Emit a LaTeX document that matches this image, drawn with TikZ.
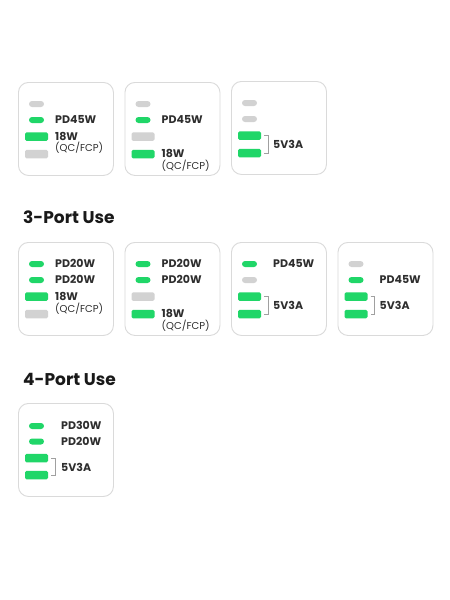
\documentclass[tikz,border=0pt]{standalone}
\usepackage{fontspec}
\setmainfont{Poppins}
\definecolor{pgreen}{HTML}{20D668}
\definecolor{pgray}{HTML}{D2D2D2}
\definecolor{pborder}{HTML}{DADADA}
\definecolor{ptext}{HTML}{2E2E2E}
\definecolor{pbrk}{HTML}{A0A0A0}
\tikzset{
 card/.style={draw=pborder, line width=0.9pt, rounded corners=10pt, minimum width=95pt, minimum height=93pt, anchor=north west, inner sep=0pt},
 spill/.style={rectangle, rounded corners=3pt, minimum width=15pt, minimum height=6pt, inner sep=0pt},
 bigport/.style={rectangle, rounded corners=1.5pt, minimum width=23pt, minimum height=8.5pt, inner sep=0pt},
 gon/.style={fill=pgreen}, goff/.style={fill=pgray},
 lbl/.style={anchor=west, inner sep=0pt, text height=7.8pt, text depth=0pt, font=\bfseries\fontsize{11}{12}\selectfont, text=ptext},
 sublbl/.style={anchor=west, inner sep=0pt, text height=7.5pt, text depth=0pt, font=\fontsize{10}{12}\selectfont, text=ptext},
 brk/.style={draw=pbrk, line width=0.6pt},
 head/.style={anchor=base west, inner sep=0pt, font=\bfseries\fontsize{17}{20}\selectfont, text=black!90}
}
\begin{document}
\begin{tikzpicture}[x=1pt,y=-1pt]
\useasboundingbox[fill=white] (0,0) rectangle (450,600);
% Row 1
\begin{scope}[shift={(18,82)}]
\node[card] (a1) at (0,0) {};
\node[spill,goff] (a1p1) at (18.5,22) {};
\node[spill,gon] (a1p2) at (18.5,38) {};
\node[lbl] (a1t2) at (37,38) {PD45W};
\node[bigport,gon] (a1p3) at (18.5,54.5) {};
\node[lbl] (a1t3) at (37,54.5) {18W};
\node[sublbl] (a1t4) at (37,66) {(QC/FCP)};
\node[bigport,goff] (a1p4) at (18.5,72) {};
\end{scope}
\begin{scope}[shift={(124.5,82)}]
\node[card] (a2) at (0,0) {};
\node[spill,goff] (a2p1) at (18.5,22) {};
\node[spill,gon] (a2p2) at (18.5,38) {};
\node[lbl] (a2t2) at (37,38) {PD45W};
\node[bigport,goff] (a2p3) at (18.5,54.5) {};
\node[bigport,gon] (a2p4) at (18.5,72) {};
\node[lbl] (a2t4) at (37,72) {18W};
\node[sublbl] (a2t5) at (37,84) {(QC/FCP)};
\end{scope}
\begin{scope}[shift={(231,81)}]
\node[card] (a3) at (0,0) {};
\node[spill,goff] (a3p1) at (18.5,22) {};
\node[spill,goff] (a3p2) at (18.5,38) {};
\node[bigport,gon] (a3p3) at (18.5,54.5) {};
\node[bigport,gon] (a3p4) at (18.5,72) {};
\draw[brk] ([xshift=3pt]a3p3.east) -- ++(4,0) |- ([xshift=3pt]a3p4.east);
\node[lbl] (a3t) at (42,64) {5V3A};
\end{scope}
% Row 2
\node[head] (h3) at (23,223) {3-Port Use};
\begin{scope}[shift={(18,242)}]
\node[card] (b1) at (0,0) {};
\node[spill,gon] (b1p1) at (18.5,22) {};
\node[lbl] (b1t1) at (37,22) {PD20W};
\node[spill,gon] (b1p2) at (18.5,38) {};
\node[lbl] (b1t2) at (37,38) {PD20W};
\node[bigport,gon] (b1p3) at (18.5,54.5) {};
\node[lbl] (b1t3) at (37,54.5) {18W};
\node[sublbl] (b1t4) at (37,66.5) {(QC/FCP)};
\node[bigport,goff] (b1p4) at (18.5,72) {};
\end{scope}
\begin{scope}[shift={(124.5,242)}]
\node[card] (b2) at (0,0) {};
\node[spill,gon] (b2p1) at (18.5,22) {};
\node[lbl] (b2t1) at (37,22) {PD20W};
\node[spill,gon] (b2p2) at (18.5,38) {};
\node[lbl] (b2t2) at (37,38) {PD20W};
\node[bigport,goff] (b2p3) at (18.5,54.5) {};
\node[bigport,gon] (b2p4) at (18.5,72) {};
\node[lbl] (b2t4) at (37,72) {18W};
\node[sublbl] (b2t5) at (37,84) {(QC/FCP)};
\end{scope}
\begin{scope}[shift={(231,242)}]
\node[card] (b3) at (0,0) {};
\node[spill,gon] (b3p1) at (18.5,22) {};
\node[lbl] (b3t1) at (42,22) {PD45W};
\node[spill,goff] (b3p2) at (18.5,38) {};
\node[bigport,gon] (b3p3) at (18.5,54.5) {};
\node[bigport,gon] (b3p4) at (18.5,72) {};
\draw[brk] ([xshift=3pt]b3p3.east) -- ++(4,0) |- ([xshift=3pt]b3p4.east);
\node[lbl] (b3t) at (42,64) {5V3A};
\end{scope}
\begin{scope}[shift={(337.5,242)}]
\node[card] (b4) at (0,0) {};
\node[spill,goff] (b4p1) at (18.5,22) {};
\node[spill,gon] (b4p2) at (18.5,38) {};
\node[lbl] (b4t2) at (42,38) {PD45W};
\node[bigport,gon] (b4p3) at (18.5,54.5) {};
\node[bigport,gon] (b4p4) at (18.5,72) {};
\draw[brk] ([xshift=3pt]b4p3.east) -- ++(4,0) |- ([xshift=3pt]b4p4.east);
\node[lbl] (b4t) at (42,64) {5V3A};
\end{scope}
% Row 3
\node[head] (h4) at (23,385) {4-Port Use};
\begin{scope}[shift={(18,403)}]
\node[card] (c1) at (0,0) {};
\node[spill,gon] (c1p1) at (18.5,23) {};
\node[lbl] (c1t1) at (43,23) {PD30W};
\node[spill,gon] (c1p2) at (18.5,38.5) {};
\node[lbl] (c1t2) at (43,38.5) {PD20W};
\node[bigport,gon] (c1p3) at (18.5,55) {};
\node[bigport,gon] (c1p4) at (18.5,72) {};
\draw[brk] ([xshift=3pt]c1p3.east) -- ++(4,0) |- ([xshift=3pt]c1p4.east);
\node[lbl] (c1t) at (43,65) {5V3A};
\end{scope}
\end{tikzpicture}
\end{document}
